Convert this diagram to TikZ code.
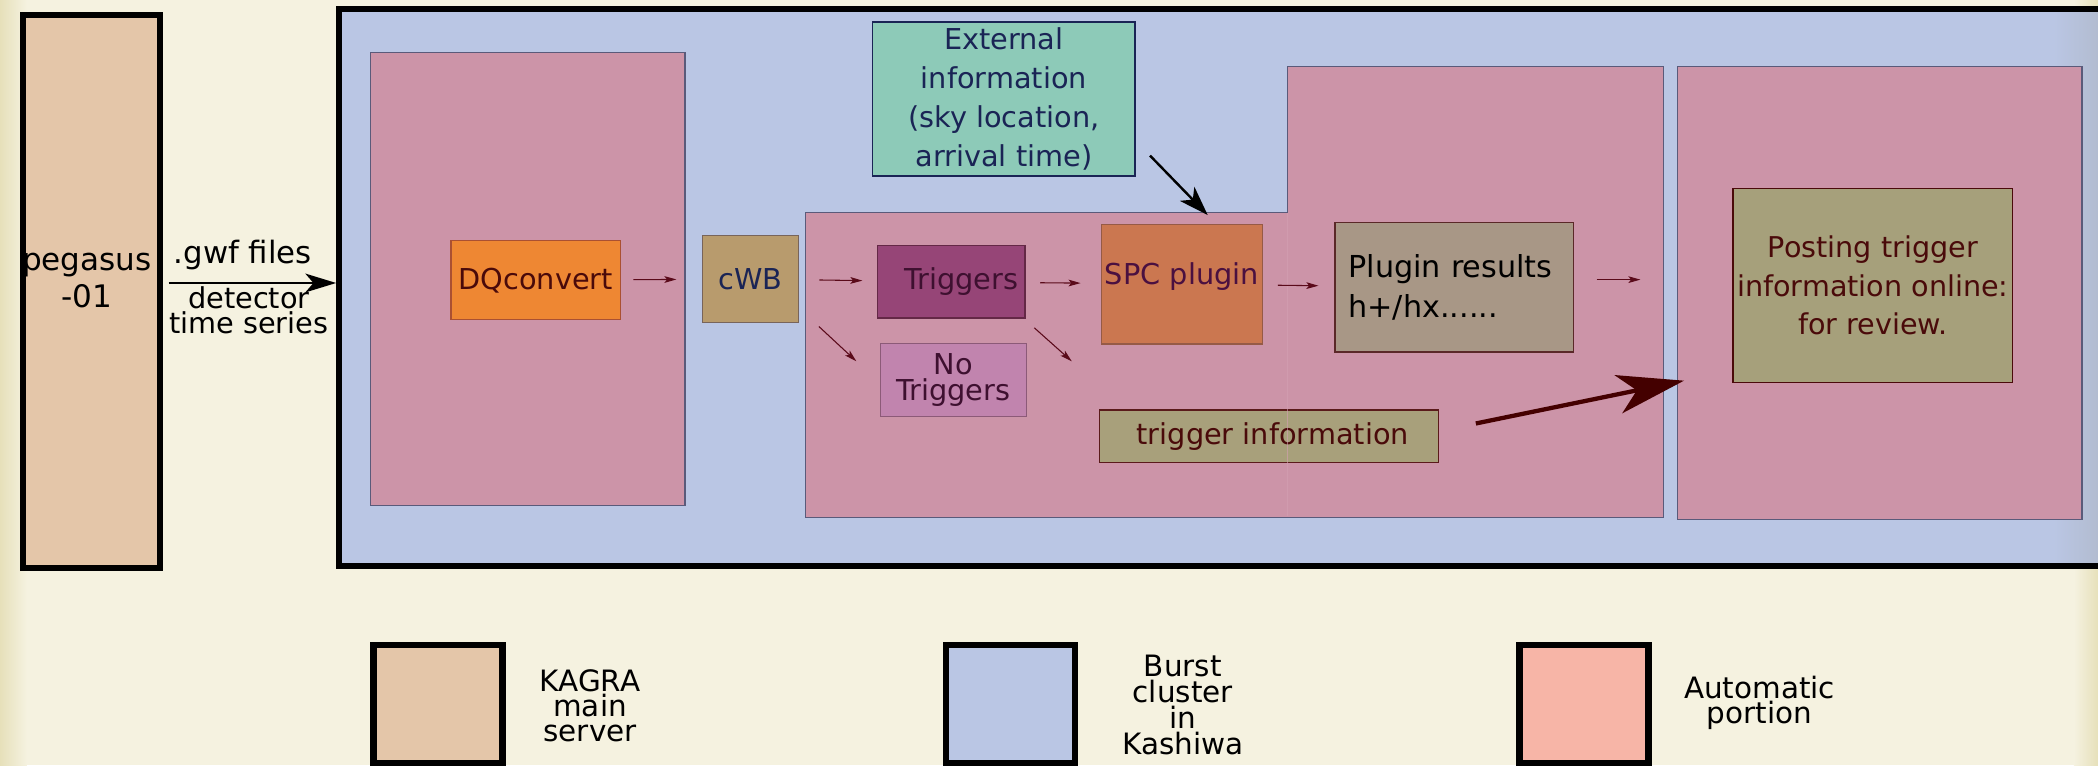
\documentclass[tikz,border=0pt]{standalone}
\usepackage{fontspec}
\setmainfont{DejaVu Sans}
\usetikzlibrary{arrows.meta}
\definecolor{bgcol}{RGB}{245,242,224}
\definecolor{edgecol}{RGB}{230,224,186}
\definecolor{tanc}{RGB}{228,198,169}
\definecolor{bluec}{RGB}{186,198,228}
\definecolor{bluegray}{RGB}{178,188,208}
\definecolor{pinkc}{RGB}{204,148,168}
\definecolor{pinkseam}{RGB}{212,160,178}
\definecolor{pinkline}{RGB}{90,90,122}
\definecolor{autoc}{RGB}{247,181,167}
\definecolor{dqc}{RGB}{238,135,51}
\definecolor{dqline}{RGB}{170,80,50}
\definecolor{cwbc}{RGB}{184,155,109}
\definecolor{cwbline}{RGB}{120,100,90}
\definecolor{extc}{RGB}{141,202,184}
\definecolor{trigc}{RGB}{150,69,119}
\definecolor{trigline}{RGB}{100,40,70}
\definecolor{notrigc}{RGB}{193,132,174}
\definecolor{notrigline}{RGB}{140,90,120}
\definecolor{spcc}{RGB}{203,119,80}
\definecolor{spcline}{RGB}{150,90,70}
\definecolor{spctext}{RGB}{74,16,64}
\definecolor{plugc}{RGB}{168,151,134}
\definecolor{plugline}{RGB}{90,40,40}
\definecolor{infoc}{RGB}{168,160,123}
\definecolor{infoline}{RGB}{90,26,26}
\definecolor{postc}{RGB}{166,160,123}
\definecolor{darkred}{RGB}{74,10,10}
\definecolor{navy}{RGB}{26,36,85}
\definecolor{darkpurp}{RGB}{62,16,48}
\definecolor{arrowred}{RGB}{90,10,26}
\definecolor{bigred}{RGB}{68,0,0}
\begin{document}
\begin{tikzpicture}[x=1pt,y=-1pt,
  thickbox/.style={draw=black, line width=4.6pt, inner sep=0pt},
  thinbox/.style={draw=#1, line width=0.9pt, inner sep=0pt},
  sarrow/.style={draw=arrowred, line width=0.8pt, -{Stealth[length=9pt,width=5pt,inset=2pt]}},
  txt/.style={font=\fontsize{21.5}{26}\selectfont, align=center, inner sep=0pt},
]
\useasboundingbox (0,0) rectangle (1568,572);
% background
\fill[bgcol] (0,0) rectangle (1568,572);
\shade[left color=edgecol, right color=bgcol] (0,0) rectangle (20,572);
\shade[left color=bgcol, right color=edgecol] (1550,0) rectangle (1568,572);

% KAGRA server
\node[thickbox, fill=tanc, minimum width=102.5pt, minimum height=413.5pt] (peg) at (68.5,218) {};
\node[txt, font=\fontsize{23.2}{28}\selectfont] (pegtxt) at (65,209.7) {pegasus\\-01};

% Kashiwa cluster
\node[thickbox, line width=4.5pt, fill=bluec, minimum width=1326.5pt, minimum height=416.5pt] (kashiwa) at (916.75,215) {};
\shade[left color=bluec, right color=bluegray] (1535,9) rectangle (1568,421);
\draw[black, line width=4.5pt] (1530,6.75) -- (1570,6.75) (1530,423.25) -- (1570,423.25);

% gwf arrow
\coordinate (gwf) at (126,211.5);
\draw[black, line width=1.8pt, -{Stealth[length=23pt,width=14pt,inset=6pt]}] (gwf) -- (gwf -| kashiwa.west);
\node[txt, font=\fontsize{23}{26}\selectfont] (gwflbl) at (181.5,190.5) {.gwf files};
\node[txt, font=\fontsize{21.5}{18}\selectfont] (tslbl) at (186,231.9) {detector\\time series};

% automatic portions
\node[thinbox=pinkline, fill=pinkc, minimum width=235pt, minimum height=338.5pt] (auto1) at (394.5,208.7) {};
\draw[pinkline, line width=0.9pt, fill=pinkc] (602,159) -- (962,159) -- (962,49.5) -- (1243.5,49.5) -- (1243.5,386.5) -- (602,386.5) -- cycle;
\node[thinbox=pinkline, fill=pinkc, minimum width=302pt, minimum height=338pt] (auto3) at (1405,219) {};

% boxes
\node[thinbox=dqline, fill=dqc, minimum width=127pt, minimum height=59pt, txt, text=darkred] (dq) at (400.5,209.5) {DQconvert};
\node[thinbox=cwbline, fill=cwbc, minimum width=72pt, minimum height=65pt, txt, text=navy] (cwb) at (561,208.5) {cWB};
\node[thinbox=trigline, fill=trigc, minimum width=110pt, minimum height=54pt, txt, text=darkpurp] (trig) at (711,210.7) {\makebox[100pt][r]{Triggers}};
\node[thinbox=notrigline, fill=notrigc, minimum width=109pt, minimum height=54pt, txt, font=\fontsize{21.5}{19}\selectfont, text=darkpurp] (notrig) at (712.5,284) {No\\Triggers};
\node[thinbox=spcline, fill=spcc, minimum width=120.5pt, minimum height=89.5pt, txt, text=spctext, text height=12pt, text depth=12pt] (spc) at (883.3,212.3) {SPC plugin};
\node[thinbox=infoline, fill=infoc, minimum width=253pt, minimum height=39.5pt, txt, text=darkred] (info) at (948.5,326.2) {\makebox[240pt][l]{\hspace{21pt}trigger information}};
\draw[pinkseam, line width=0.7pt, opacity=0.6] (962,159.5) -- (962,386);
\node[thinbox=plugline, fill=plugc, minimum width=178pt, minimum height=96.5pt, txt, font=\fontsize{22.6}{29.2}\selectfont, text width=158pt, align=left, text=black] (plug) at (1086.8,214.8) {Plugin results\\h+/hx......};
\node[thinbox=navy, fill=extc, minimum width=196pt, minimum height=115pt, txt, font=\fontsize{21.5}{29}\selectfont, text=navy] (ext) at (750.3,74) {External\\information\\(sky location,\\arrival time)};
\node[thinbox=darkred, fill=postc, minimum width=209pt, minimum height=145pt, txt, font=\fontsize{21.4}{28.5}\selectfont, text=darkred] (post) at (1399.7,213.3) {Posting trigger\\information online:\\for review.};

% small arrows
\draw[sarrow, shorten <=9pt, shorten >=19pt] (dq) -- (cwb);
\draw[sarrow, shorten <=15pt, shorten >=11pt] (cwb) -- (trig);
\draw[sarrow, shorten <=11pt, shorten >=15pt] (trig) -- (spc);
\draw[sarrow, shorten <=11pt, shorten >=12pt] (spc) -- (plug);
\coordinate (pout) at (1226,209);
\draw[sarrow, shorten <=17pt] (plug.east |- pout) -- (pout);
\coordinate (d1s) at (612,244); \coordinate (d1e) at (640,270);
\draw[sarrow] (d1s) -- (d1e);
\coordinate (d2s) at (773,245); \coordinate (d2e) at (801,270);
\draw[sarrow] (d2s) -- (d2e);

% external arrow
\coordinate (exs) at (859.5,116.3); \coordinate (exe) at (902.6,160.7);
\draw[black, line width=1.8pt, -{Stealth[length=22pt,width=15pt,inset=6pt]}] (exs) -- (exe);

% big red arrow
\coordinate (bs) at (1103,316.5); \coordinate (be) at (1258.6,284.5);
\draw[bigred, line width=3.2pt, -{Stealth[length=50pt,width=29pt,inset=14pt]}] (bs) -- (be);

% legend
\node[thickbox, line width=5pt, fill=tanc, minimum width=96.5pt, minimum height=88.5pt] (leg1) at (327.25,526.25) {};
\node[txt, font=\fontsize{22}{18.5}\selectfont] (leg1t) at (441,527.5) {KAGRA\\main\\server};
\node[thickbox, line width=5pt, fill=bluec, minimum width=96.5pt, minimum height=88.5pt] (leg2) at (755.25,526.25) {};
\node[txt, font=\fontsize{22}{19.3}\selectfont] (leg2t) at (884,527) {Burst\\cluster\\in\\Kashiwa};
\node[thickbox, line width=5pt, fill=autoc, minimum width=96.5pt, minimum height=88.5pt] (leg3) at (1183.75,526.25) {};
\node[txt, font=\fontsize{22}{19}\selectfont] (leg3t) at (1315,525.5) {Automatic\\portion};
\end{tikzpicture}
\end{document}
